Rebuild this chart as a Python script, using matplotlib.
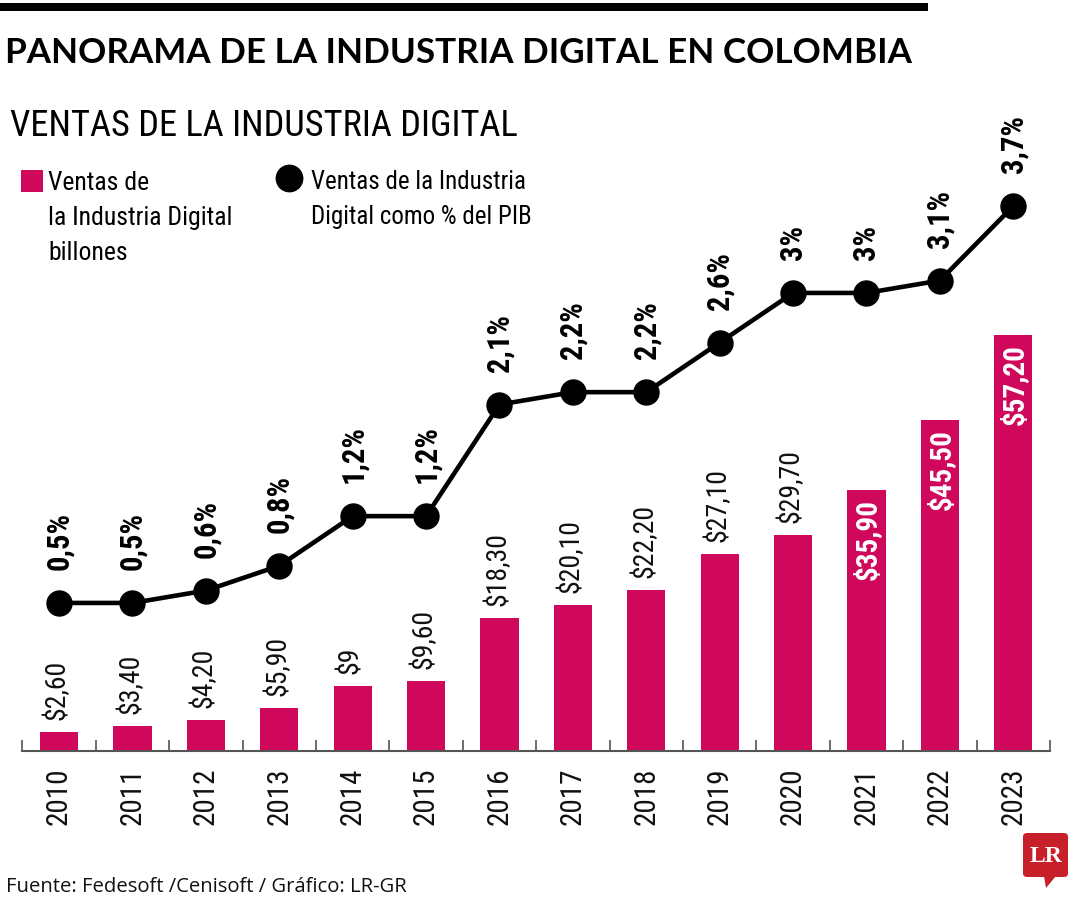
import matplotlib
matplotlib.use("Agg")
import matplotlib.pyplot as plt
import matplotlib.font_manager as fm
from matplotlib.patches import Rectangle, FancyBboxPatch, Polygon
import numpy as np


# ==========================================
# DATA
# ==========================================

years = ['2010', '2011', '2012', '2013', '2014', '2015', '2016',
         '2017', '2018', '2019', '2020', '2021', '2022', '2023']

ventas = [2.60, 3.40, 4.20, 5.90, 9, 9.60, 18.30,
          20.10, 22.20, 27.10, 29.70, 35.90, 45.50, 57.20]

ventas_labels = ['$2,60', '$3,40', '$4,20', '$5,90', '$9', '$9,60', '$18,30',
                 '$20,10', '$22,20', '$27,10', '$29,70', '$35,90', '$45,50', '$57,20']

pib = [0.5, 0.5, 0.6, 0.8, 1.2, 1.2, 2.1,
       2.2, 2.2, 2.6, 3.0, 3.0, 3.1, 3.7]

pib_labels = ['0,5%', '0,5%', '0,6%', '0,8%', '1,2%', '1,2%', '2,1%',
              '2,2%', '2,2%', '2,6%', '3%', '3%', '3,1%', '3,7%']

# bars from this index on get the label inside, in white
inside_from = 11

title = "PANORAMA DE LA INDUSTRIA DIGITAL EN COLOMBIA"
subtitle = "VENTAS DE LA INDUSTRIA DIGITAL"
legend_bar = ["Ventas de", "la Industria Digital", "billones"]
legend_line = ["Ventas de la Industria", "Digital como % del PIB"]
source = "Fuente: Fedesoft /Cenisoft / Gráfico: LR-GR"

PINK = '#d0085b'
GREY = '#555555'


# ==========================================
# FONTS
# ==========================================

names = {f.name for f in fm.fontManager.ttflist}


def pick(*cands):
    for c in cands:
        if c in names:
            return c
    return 'DejaVu Sans'


narrow = pick('Roboto Condensed', 'Liberation Sans Narrow',
              'DejaVu Sans Condensed', 'Liberation Sans')
wide = pick('Lato', 'Open Sans', 'Liberation Sans')
plain = pick('Open Sans', 'Noto Sans', 'Lato')


# ==========================================
# FIGURE
# ==========================================

W, H = 1080, 900
fig = plt.figure(figsize=(W / 100, H / 100), dpi=100)


def fx(px):
    return px / W


def fy(py):
    return 1 - py / H


renderer = fig.canvas.get_renderer()


def fit_width(txt, target_px):
    bb = txt.get_window_extent(renderer)
    txt.set_fontsize(txt.get_fontsize() * target_px / bb.width)


# top black rule
fig.add_artist(Rectangle((0, fy(11)), fx(928), 8 / H,
                         transform=fig.transFigure, color='black', lw=0))

t = fig.text(fx(5), fy(63), title, fontsize=28, fontweight='bold',
             family=wide, va='baseline', ha='left')
fit_width(t, 907)

t = fig.text(fx(10), fy(136), subtitle, fontsize=26,
             family=narrow, va='baseline', ha='left')
fit_width(t, 508)


# LEGEND

fig.add_artist(Rectangle((fx(21), fy(192)), 22 / W, 22 / H,
                         transform=fig.transFigure, color=PINK, lw=0))

for k, line in enumerate(legend_bar):
    fig.text(fx(48), fy(190 + 35 * k), line, fontsize=18.5,
             family=narrow, va='baseline', ha='left')

fig.lines.append(plt.Line2D([fx(289)], [fy(178)], marker='o', ms=19,
                            color='black', transform=fig.transFigure))

for k, line in enumerate(legend_line):
    fig.text(fx(311), fy(189 + 35 * k), line, fontsize=18,
             family=narrow, va='baseline', ha='left')


# ==========================================
# BARS
# ==========================================

ax = fig.add_axes([fx(22.4), fy(751), (1050 - 22.4) / W, (751 - 100) / H])

x = np.arange(len(years))

ax.bar(x, ventas, width=0.52, color=PINK, zorder=2)

ax.set_xlim(-0.5, len(years) - 0.5)
ax.set_ylim(0, 89.5)

for i, (v, lbl) in enumerate(zip(ventas, ventas_labels)):

    if i >= inside_from:
        ax.annotate(lbl, (i, v), xytext=(1, -9), textcoords='offset pixels',
                    rotation=90, ha='center', va='top', color='white',
                    fontweight='bold', fontsize=21, family=narrow, zorder=3)
    else:
        ax.annotate(lbl, (i, v), xytext=(-2, 12), textcoords='offset pixels',
                    rotation=90, ha='center', va='bottom', color='#111111',
                    fontsize=20, family=narrow, zorder=3)

for s in ['top', 'left', 'right']:
    ax.spines[s].set_visible(False)

ax.spines['bottom'].set_color(GREY)
ax.spines['bottom'].set_linewidth(1.5)

ax.set_yticks([])
ax.set_xticks(x)
ax.set_xticklabels(years, rotation=90, fontsize=21, family=narrow,
                   color='#111111', va='top')
ax.tick_params(axis='x', which='major', length=0, pad=12)

ax.set_xticks(np.arange(-0.5, len(years)), minor=True)
ax.tick_params(axis='x', which='minor', direction='in', length=8,
               width=1.2, color=GREY)
ax.patch.set_alpha(0)


# ==========================================
# LINE (% DEL PIB)
# ==========================================

ax2 = ax.twinx()

ax2.plot(x, pib, color='black', linewidth=3.3, marker='o',
         markersize=18, zorder=4)

ax2.set_ylim(-0.694, 4.556)
ax2.set_yticks([])
for s in ax2.spines.values():
    s.set_visible(False)

for i, (v, lbl) in enumerate(zip(pib, pib_labels)):
    ax2.annotate(lbl, (i, v), xytext=(0, 33), textcoords='offset pixels',
                 rotation=90, ha='center', va='bottom', color='black',
                 fontweight='bold', fontsize=22, family=narrow)


# ==========================================
# FOOTER
# ==========================================

t = fig.text(fx(6), fy(892), source, fontsize=16, family=plain,
             va='baseline', ha='left', color='#111111')
fit_width(t, 401)

# LR logo
fig.add_artist(FancyBboxPatch((fx(1023), fy(877)), 45 / W, 44 / H,
                              boxstyle='round,pad=0,rounding_size=0.004',
                              transform=fig.transFigure,
                              color='#c8202a', lw=0))
fig.add_artist(Polygon([(fx(1044), fy(876)), (fx(1056), fy(876)),
                        (fx(1046), fy(888))],
                       closed=True, transform=fig.transFigure,
                       color='#c8202a', lw=0))
fig.text(fx(1046), fy(856), "LR", fontsize=17, fontweight='bold',
         family=pick('Liberation Serif', 'DejaVu Serif'), color='white',
         ha='center', va='center')

fig.savefig("out.png", dpi=100)
